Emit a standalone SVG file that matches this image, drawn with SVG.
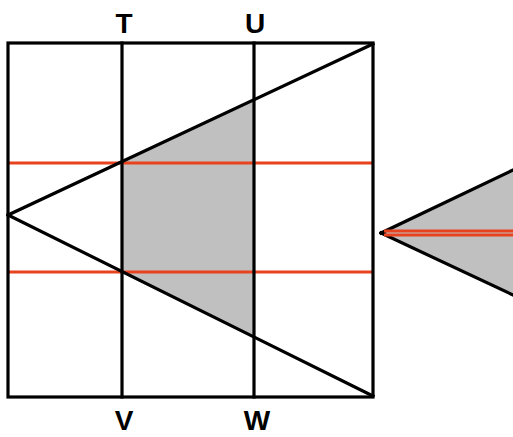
<svg xmlns="http://www.w3.org/2000/svg" width="513" height="437" viewBox="0 0 513 437">
<style>
.blk{stroke:#000;stroke-width:3.2;fill:none;stroke-linecap:square}
.red{stroke:#e8431f;stroke-width:3;fill:none}
.gray{fill:#c0c0c0;stroke:none}
.lbl{font-family:"Liberation Sans",Arial,sans-serif;font-weight:bold;font-size:28px;fill:#000;text-anchor:middle}
</style>
<rect width="513" height="437" fill="#fff"/>
<g id="shade">
<polygon class="gray" points="122,162 253,101 253,336 122,271"/>
</g>
<g id="right-shape">
<polygon class="gray" points="381,233 513,170 513,295"/>
<line class="blk" x1="381" y1="233" x2="513" y2="170"/>
<line class="blk" x1="381" y1="233" x2="513" y2="295"/>
<line class="red" stroke-width="2" x1="384" y1="231" x2="513" y2="231"/>
<line class="red" stroke-width="2" x1="384" y1="235" x2="513" y2="235"/>
</g>
<g id="connectors">
<line class="red" x1="8" y1="163" x2="373" y2="163"/>
<line class="red" x1="8" y1="272" x2="373" y2="272"/>
<line class="blk" x1="122" y1="43" x2="122" y2="397"/>
<line class="blk" x1="254" y1="43" x2="254" y2="397"/>
<line class="blk" x1="8" y1="215" x2="373" y2="44"/>
<line class="blk" x1="8" y1="215" x2="373" y2="396"/>
</g>
<g id="square">
<rect class="blk" x="8" y="43" width="365" height="354"/>
</g>
<g id="labels">
<text class="lbl" x="124" y="33">T</text>
<text class="lbl" x="255" y="33">U</text>
<text class="lbl" x="124" y="430">V</text>
<text class="lbl" x="257" y="430">W</text>
</g>
</svg>
